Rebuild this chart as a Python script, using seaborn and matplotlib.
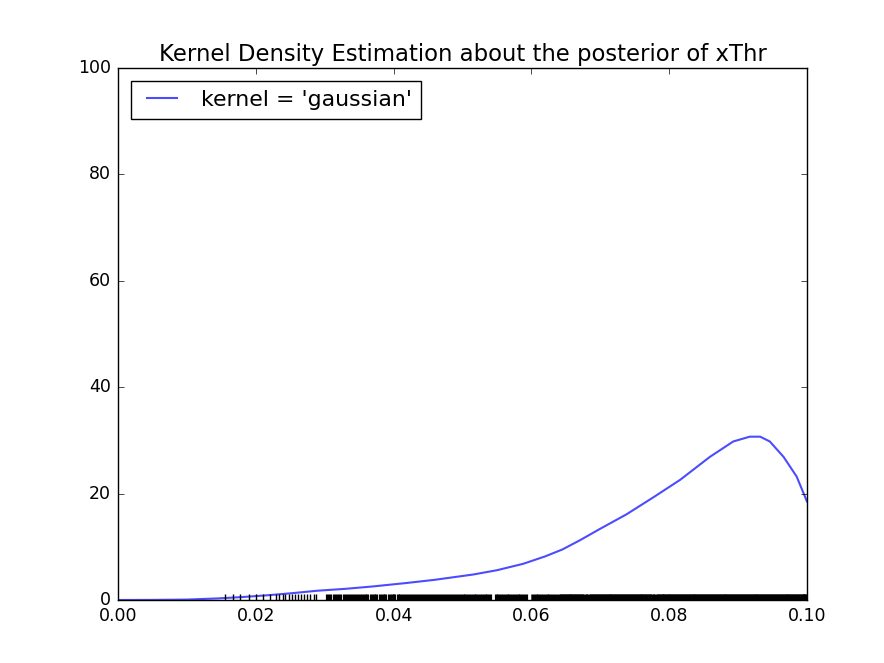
import matplotlib
matplotlib.use("Agg")
import matplotlib.pyplot as plt
import seaborn as sns
import pandas as pd

# KDE curve
kde_x = [0.000, 0.005, 0.010, 0.0145, 0.018, 0.0218, 0.025, 0.029, 0.033, 0.037,
         0.0419, 0.046, 0.0516, 0.055, 0.0588, 0.062, 0.0645, 0.067, 0.070,
         0.0738, 0.0777, 0.0816, 0.0859, 0.0893, 0.0917, 0.0932, 0.0946, 0.0966,
         0.0985, 0.1000]
kde_y = [0.0, 0.02, 0.08, 0.3, 0.55, 0.9, 1.25, 1.75, 2.1, 2.55,
         3.2, 3.8, 4.8, 5.6, 6.8, 8.2, 9.5, 11.2, 13.4,
         16.1, 19.3, 22.6, 26.9, 29.8, 30.7, 30.7, 29.8, 26.9,
         23.2, 18.5]

# Rug samples (posterior draws of xThr)
rug_sparse = [0.0155, 0.0167, 0.0177, 0.0190, 0.0201, 0.0210, 0.0220, 0.0230,
              0.0234, 0.0239, 0.0243, 0.0248, 0.0252, 0.0257, 0.0261, 0.0266,
              0.0270, 0.0275, 0.0279, 0.0284, 0.0288]
rug_mid = [0.0303, 0.0308, 0.0313, 0.0318, 0.0322, 0.0328, 0.0332, 0.0336,
           0.0341, 0.0345, 0.0350, 0.0354, 0.0358, 0.0362, 0.0367, 0.0371,
           0.0375, 0.0380, 0.0384, 0.0388, 0.0393, 0.0397, 0.0401, 0.0406,
           0.0410, 0.0414, 0.0418, 0.0423, 0.0427, 0.0431, 0.0436, 0.0440,
           0.0444, 0.0449, 0.0453, 0.0457, 0.0462, 0.0466, 0.0470, 0.0475,
           0.0479, 0.0483, 0.0488, 0.0492, 0.0496, 0.0500, 0.0504, 0.0508,
           0.0512, 0.0516, 0.0520, 0.0524, 0.0528, 0.0532, 0.0536, 0.0540,
           0.0548, 0.0552, 0.0556, 0.0560, 0.0564, 0.0568, 0.0572, 0.0576,
           0.0580, 0.0584, 0.0588, 0.0592, 0.0602, 0.0606, 0.0610, 0.0614,
           0.0618, 0.0622, 0.0626, 0.0630, 0.0634]
rug_dense = [0.0641, 0.0646, 0.0651, 0.0656, 0.0661, 0.0666, 0.0671, 0.0676,
             0.0684, 0.0689, 0.0694, 0.0699, 0.0704, 0.0709, 0.0714, 0.0719,
             0.0724, 0.0729, 0.0734, 0.0739, 0.0744, 0.0749, 0.0754, 0.0759,
             0.0764, 0.0769, 0.0773, 0.0781, 0.0786, 0.0791, 0.0796, 0.0801,
             0.0806, 0.0811, 0.0816, 0.0821, 0.0826, 0.0831, 0.0836, 0.0841,
             0.0846, 0.0851, 0.0856, 0.0861, 0.0866, 0.0871, 0.0876, 0.0881,
             0.0886, 0.0891, 0.0896, 0.0901, 0.0906, 0.0911, 0.0916, 0.0921,
             0.0926, 0.0931, 0.0936, 0.0941, 0.0946, 0.0951, 0.0956, 0.0961,
             0.0966, 0.0971, 0.0976, 0.0981, 0.0986, 0.0991, 0.0996, 0.0999]

x_ticks = [0.00, 0.02, 0.04, 0.06, 0.08, 0.10]
x_tick_labels = ["0.00", "0.02", "0.04", "0.06", "0.08", "0.10"]
y_ticks = [0, 20, 40, 60, 80, 100]

title = "Kernel Density Estimation about the posterior of xThr"
legend_label = "kernel = 'gaussian'"

plt.style.use("classic")
plt.rcParams["font.family"] = ["DejaVu Sans"]
plt.rcParams["figure.facecolor"] = "white"
plt.rcParams["savefig.facecolor"] = "white"

fig = plt.figure(figsize=(8.84, 6.63), dpi=100)
ax = fig.add_axes([118 / 884, 63 / 663, 689 / 884, 532 / 663])

df = pd.DataFrame({"x": kde_x, "y": kde_y})
sns.lineplot(data=df, x="x", y="y", ax=ax, color="blue", alpha=0.7,
             linewidth=1.5, label=legend_label, sort=False)
sns.rugplot(x=rug_sparse, ax=ax, color="black", height=0.011, linewidth=1.0)
sns.rugplot(x=rug_mid, ax=ax, color="black", height=0.011, linewidth=2.3)
sns.rugplot(x=rug_dense, ax=ax, color="black", height=0.011, linewidth=5.0)

ax.set_xlim(0, 0.1)
ax.set_ylim(0, 100)
ax.set_xticks(x_ticks)
ax.set_xticklabels(x_tick_labels)
ax.set_yticks(y_ticks)
ax.set_xlabel("")
ax.set_ylabel("")
ax.tick_params(labelsize=12.5, direction="in", top=True, right=True, pad=5)
ax.set_title(title, fontsize=16.4)
leg = ax.legend(loc="upper left", fontsize=15.8, frameon=True, fancybox=False,
                borderaxespad=0.6)
leg.get_frame().set_edgecolor("black")

fig.savefig("out.png", dpi=100)
